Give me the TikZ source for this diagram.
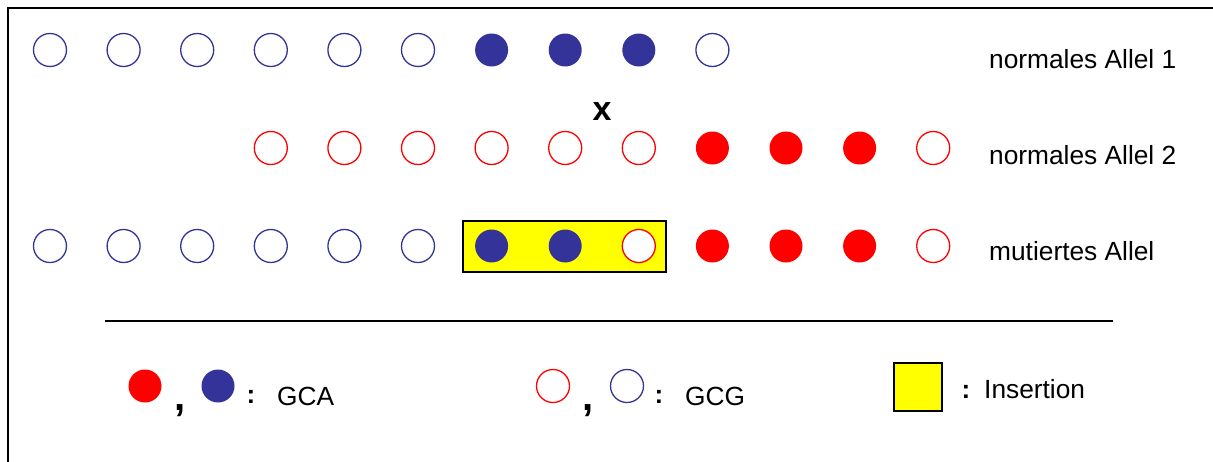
\documentclass[tikz,border=0pt]{standalone}
\usepackage{fontspec}
\setmainfont{Liberation Sans}
\definecolor{dblue}{HTML}{333399}
\definecolor{pred}{HTML}{FF0000}
\definecolor{pyel}{HTML}{FFFF00}
\begin{document}
\begin{tikzpicture}[x=1pt,y=-1pt,
  dot/.style={circle,inner sep=0pt,minimum size=33pt,line width=1.3pt},
  ob/.style={dot,draw=dblue,fill=white},
  fb/.style={dot,fill=dblue},
  orr/.style={dot,draw=pred,fill=white},
  fr/.style={dot,fill=pred},
  lbl/.style={anchor=base west,inner sep=0pt,font=\fontsize{26.3}{30}\selectfont},
  sym/.style={anchor=base,inner sep=0pt,font=\fontsize{26}{30}\selectfont\bfseries},
  com/.style={anchor=base,inner sep=0pt,font=\fontsize{40}{44}\selectfont\bfseries}]
\useasboundingbox (0,0) rectangle (1213,461);
\clip (0,0) rectangle (1213,461);
\draw[line width=2pt] (8,470) -- (8,8) -- (1220,8);
% row 1
\foreach \i/\s in {0/ob,1/ob,2/ob,3/ob,4/ob,5/ob,6/fb,7/fb,8/fb,9/ob}
  \node[\s] (a\i) at ({50+73.6*\i},50) {};
% row 2
\foreach \i/\s in {3/orr,4/orr,5/orr,6/orr,7/orr,8/orr,9/fr,10/fr,11/fr,12/orr}
  \node[\s] (b\i) at ({50+73.6*\i},148) {};
% row 3
\node[draw=black,fill=pyel,line width=2pt,minimum width=203pt,minimum height=51pt,inner sep=0pt] (ins) at (564.5,246.5) {};
\foreach \i/\s in {0/ob,1/ob,2/ob,3/ob,4/ob,5/ob,6/fb,7/fb,8/orr,9/fr,10/fr,11/fr,12/orr}
  \node[\s] (c\i) at ({50+73.6*\i},246) {};
% labels
\node[lbl] (l1) at (989,68) {normales Allel 1};
\node[lbl] (l2) at (989,164) {normales Allel 2};
\node[lbl] (l3) at (989,260) {mutiertes Allel};
\node[anchor=base,inner sep=0pt,font=\fontsize{34}{36}\selectfont\bfseries] (x) at (602,120) {x};
% separator
\coordinate (sl) at (105,321);
\coordinate (sr) at (1113,321);
\draw[line width=1.3pt] (sl) -- (sr);
% legend 1
\node[fr] (g1) at (145,386) {};
\node[com] (k1) at (180,410) {,};
\node[fb] (g2) at (218,386) {};
\node[sym] (c1) at (251,403) {:};
\node[lbl] (t1) at (277,405) {GCA};
% legend 2
\node[orr] (g3) at (553,386) {};
\node[com] (k2) at (588,410) {,};
\node[ob] (g4) at (627,386) {};
\node[sym] (c2) at (659,403) {:};
\node[lbl] (t2) at (685,405) {GCG};
% legend 3
\node[draw=black,fill=pyel,line width=1.5pt,minimum width=48pt,minimum height=48pt,inner sep=0pt] (sq) at (918,387) {};
\node[sym] (c3) at (966,398) {:};
\node[lbl] (t3) at (984,398) {Insertion};
\end{tikzpicture}
\end{document}
